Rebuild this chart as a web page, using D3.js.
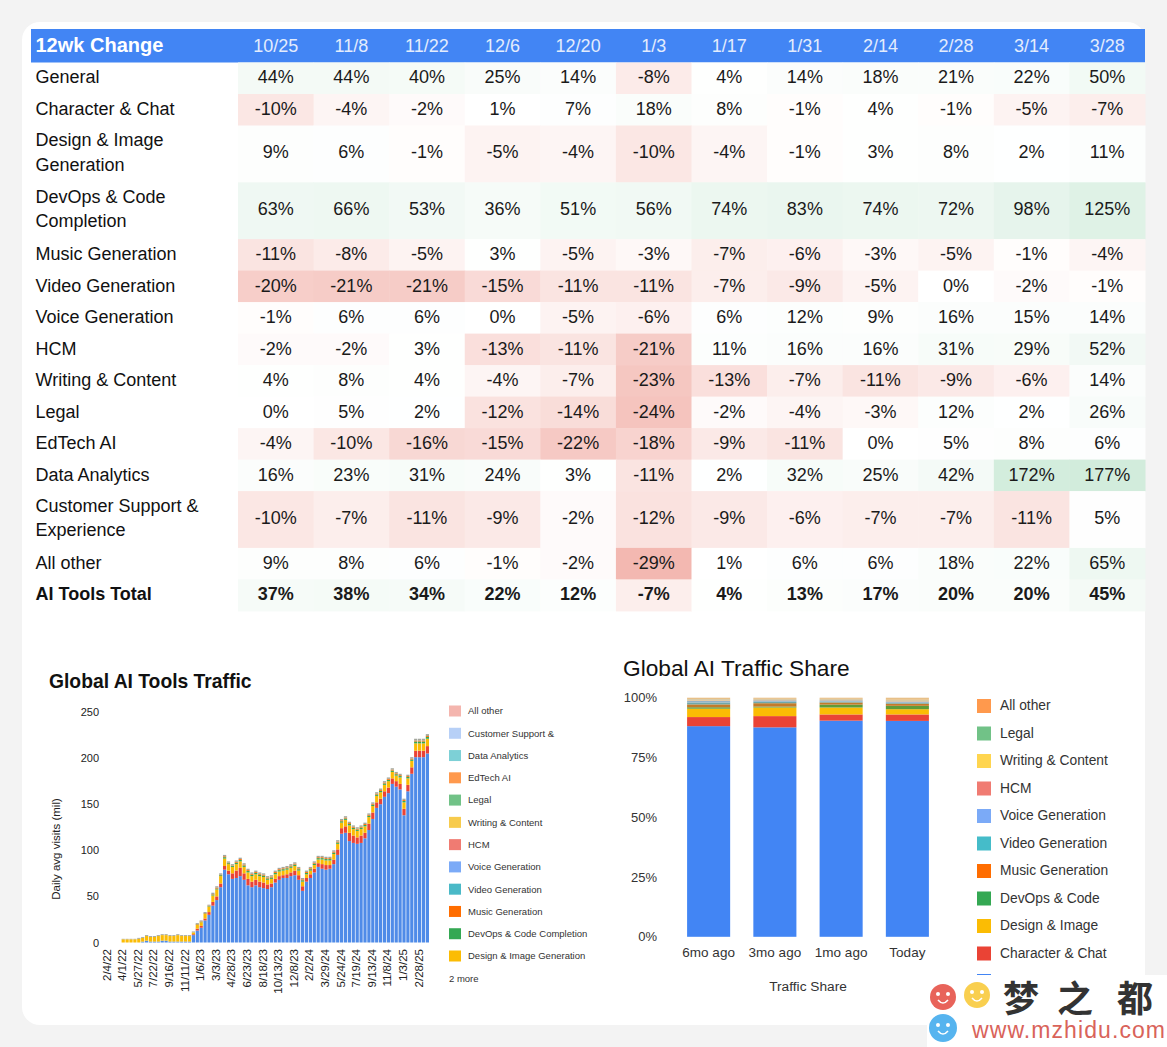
<!DOCTYPE html>
<html>
<head>
<meta charset="utf-8">
<script src="https://cdnjs.cloudflare.com/ajax/libs/d3/7.8.5/d3.min.js"></script>
<style>
  html, body { margin: 0; padding: 0; background: #f3f3f3; }
  svg { display: block; font-family: "Liberation Sans", Arial, sans-serif; }
  .axis path, .axis line { display: none; }
</style>
</head>
<body>
<script>
// ---- table data
const periods = ["10/25","11/8","11/22","12/6","12/20","1/3","1/17","1/31","2/14","2/28","3/14","3/28"];
const rowLabels = [
  ["General"], ["Character & Chat"], ["Design & Image","Generation"], ["DevOps & Code","Completion"],
  ["Music Generation"], ["Video Generation"], ["Voice Generation"], ["HCM"], ["Writing & Content"],
  ["Legal"], ["EdTech AI"], ["Data Analytics"], ["Customer Support &","Experience"], ["All other"], ["AI Tools Total"]
];
const changeValues = [
  [44,44,40,25,14,-8,4,14,18,21,22,50],
  [-10,-4,-2,1,7,18,8,-1,4,-1,-5,-7],
  [9,6,-1,-5,-4,-10,-4,-1,3,8,2,11],
  [63,66,53,36,51,56,74,83,74,72,98,125],
  [-11,-8,-5,3,-5,-3,-7,-6,-3,-5,-1,-4],
  [-20,-21,-21,-15,-11,-11,-7,-9,-5,0,-2,-1],
  [-1,6,6,0,-5,-6,6,12,9,16,15,14],
  [-2,-2,3,-13,-11,-21,11,16,16,31,29,52],
  [4,8,4,-4,-7,-23,-13,-7,-11,-9,-6,14],
  [0,5,2,-12,-14,-24,-2,-4,-3,12,2,26],
  [-4,-10,-16,-15,-22,-18,-9,-11,0,5,8,6],
  [16,23,31,24,3,-11,2,32,25,42,172,177],
  [-10,-7,-11,-9,-2,-12,-9,-6,-7,-7,-11,5],
  [9,8,6,-1,-2,-29,1,6,6,18,22,65],
  [37,38,34,22,12,-7,4,13,17,20,20,45]
];

// ---- left chart data, one value per two weeks from 2/4/22 (millions)
const tickLabels = ["2/4/22","4/1/22","5/27/22","7/22/22","9/16/22","11/11/22","1/6/23","3/3/23","4/28/23","6/23/23","8/18/23","10/13/23","12/8/23","2/2/24","3/29/24","5/24/24","7/19/24","9/13/24","11/8/24","1/3/25","2/28/25"];
const generalVisits = [0,0,0,0, 0,0,0,0,0,1,2,1,1,1,2,2,1,1,1,1,1,1,
  8,13,16,24,30,40,46,60, 79,74,69,70,72,68,62,60,62,60, 59,58,60,65,68,70,70,72,73,68,
  56,66,70,76,82,80,79,80,85,95, 118,119,110,108,107,108,113,122,134,146, 150,158,162,172,169,166,138,164,183,201, 201,201,205];
const characterVisits = [0,0,0,0, 0,0,0,0,0,0,0,0,0,0,0,0,0,0,0,0,0,0,
  1,2,2,2,3,4,4,4, 4,4,6,8,9,7,7,6,6,6, 6,5,4,4,4,3,4,4,5,5,
  5,4,4,4,4,5,5,4,5,6, 6,7,9,8,7,8,6,7,7,6, 6,6,6,6,6,6,7,7,7,7, 7,7,8];
const designVisits = [0,0,0,0, 3.5,3.5,3.5,3.5,4,4,5,5,5,6,6,6,6,6,7,6,6,6,
  2,4,4,5,6,7,7.5,8, 8,7,7,7,7,7,7,6,6,6, 6,5,5,5,5,5,5,5,5,5,
  5,4,4,4,4,5,5,5,6,6, 6,7,8,7,7,7,7,7,7,7, 7,7,7,7,6,7,7,7,7,8, 8,8,8];
const devopsVisits = [0,0,0,0, 0,0,0,0,0,0,0,0,0,0,0,0,0,0,0,0,0,0,
  0,.5,.5,.5,.5,1,1,1, 1.5,1,1,1.5,1.5,1.5,1.5,1.5,1.5,1.5, 1.5,1.5,1.5,1.5,1.5,1.5,1.5,1.5,1.5,1.5,
  1.5,1.5,1.5,1.5,1.5,1.5,1.5,1.5,1.5,1.5, 1.5,1.5,1.5,1.5,1.5,1.5,1.5,1.5,1.5,1.5, 1.5,1.5,1.5,1.5,1.5,1.5,1.5,1.5,1.5,2, 2,2,2];
const musicVisits = [0,0,0,0, 0,0,0,0,0,0,0,0,0,0,0,0,0,0,0,0,0,0,
  0,.5,.5,.5,.5,.5,1,.5, 1,.5,.5,1,1,1,1,1,1,1, 1,1,1,1,1,1,1,1,1,1,
  1,1,1,1,1,1,1,1,1,1, 1,1,1,1,1,1,1,1,1,1, 1,1,1,1,1,1,1,1,1,1, 1,1,1];
const restVisits = [0,0,0,0, .5,.5,.5,.5,1,1,1,1,1,1,1,1,1,1,1,1,1,1,
  1,1,1,1,1,1.5,1.5,1.5, 1.5,1.5,1.5,1.5,1.5,1.5,1.5,1.5,1.5,1.5, 1.5,1.5,1.5,1.5,1.5,1.5,1.5,1.5,1.5,1.5,
  1.5,1.5,1.5,1.5,1.5,1.5,1.5,1.5,1.5,1.5, 1.5,1.5,1.5,1.5,1.5,1.5,1.5,1.5,1.5,1.5, 1.5,1.5,1.5,1.5,1.5,1.5,1.5,1.5,1.5,2, 2,2,2];
const leftLegend = ["All other","Customer Support &","Data Analytics","EdTech AI","Legal","Writing & Content","HCM","Voice Generation","Video Generation","Music Generation","DevOps & Code Completion","Design & Image Generation"];
const leftLegendColors = ["#f4b5ae","#b7d0f7","#7dd0d6","#ff994d","#71c287","#f7cb4d","#f07b72","#7baaf7","#4ab9c7","#ff6d00","#34a853","#fbbc04"];

// ---- right chart data (% share)
const shareLabels = ["6mo ago","3mo ago","1mo ago","Today"];
const shareGeneral = [88.1,87.6,90.4,90.3];
const shareCharacter = [3.8,4.7,2.6,2.7];
const shareDesign = [3.5,3.6,2.9,2.2];
const shareDevops = [.6,.4,1.2,1.4];
const shareMusic = [1.2,1.4,.9,.9];
const shareVideo = [.8,.6,.4,.4];
const shareVoice = [.6,.5,.4,.4];
const shareHcm = [.2,.2,.2,.2];
const shareWriting = [.4,.3,.3,.4];
const shareLegal = [.2,.2,.2,.2];
const shareOther = [.6,.5,.5,.9];
// last legend entry only shows its swatch top above the watermark, so it has no label
const rightLegend = ["All other","Legal","Writing & Content","HCM","Voice Generation","Video Generation","Music Generation","DevOps & Code","Design & Image","Character & Chat",""];
const rightColors = ["#ff994d","#71c287","#ffd54f","#f07b72","#7baaf7","#45bcc9","#ff6d00","#34a853","#fbbc04","#ea4335","#4285f4"];

const svg = d3.select("body").append("svg").attr("width", 1167).attr("height", 1047);

// card
svg.append("rect").attr("x", 22).attr("y", 22).attr("width", 1123).attr("height", 1003).attr("rx", 18).attr("fill", "#fff");

// ---- table
const colX = d3.scaleBand().domain(periods).range([238, 1145]);
const heatColor = d3.scaleLinear().domain([-29, 0, 177]).range(["#f3b8b1", "#ffffff", "#d2ecdc"]);
const rowHeights = rowLabels.map(d => d.length > 1 ? 56.8 : 31.5);
const rowTops = [0].concat(Array.from(d3.cumsum(rowHeights))).map(d => d + 62.5);

svg.append("rect").attr("x", 31).attr("y", 29).attr("width", 1114).attr("height", 33.5).attr("fill", "#4285f4");
svg.append("text").attr("x", 35.5).attr("y", 52).attr("fill", "#fff")
  .attr("font-size", 20).attr("font-weight", "bold").text("12wk Change");
svg.selectAll(".period").data(periods).join("text")
  .attr("class", "period")
  .attr("x", d => colX(d) + colX.bandwidth() / 2)
  .attr("y", 52)
  .attr("text-anchor", "middle").attr("font-size", 18).attr("fill", "#e3ecfd")
  .text(d => d);

const rows = svg.selectAll(".row").data(rowLabels).join("g")
  .attr("class", "row")
  .attr("transform", (d, i) => `translate(0,${rowTops[i]})`);

rows.each(function (labels, i) {
  const g = d3.select(this);
  const h = rowHeights[i];
  const bold = i == rowLabels.length - 1 ? "bold" : "normal";
  g.selectAll("rect").data(changeValues[i]).join("rect")
    .attr("x", (d, j) => colX(periods[j]))
    .attr("width", colX.bandwidth() + 0.5)
    .attr("height", h + 0.5)
    .attr("fill", d => heatColor(d));
  g.selectAll(".val").data(changeValues[i]).join("text")
    .attr("class", "val")
    .attr("x", (d, j) => colX(periods[j]) + colX.bandwidth() / 2)
    .attr("y", h / 2 + (labels.length > 1 ? 4.5 : 5.2))
    .attr("text-anchor", "middle").attr("font-size", 18).attr("font-weight", bold).attr("fill", "#1a1a1a")
    .text(d => d + "%");
  g.selectAll(".lab").data(labels).join("text")
    .attr("class", "lab")
    .attr("x", 35.5)
    .attr("y", (d, k) => labels.length > 1 ? 20.5 + k * 24.7 : h / 2 + 5.2)
    .attr("font-size", 18).attr("font-weight", bold).attr("fill", "#111")
    .text(d => d);
});

// ---- left chart
const leftKeys = ["general", "character", "design", "devops", "music", "rest"];
const leftColors = ["#4f8be8", "#ea4335", "#fbbc04", "#34a853", "#ff6d00", "#a3a79c"];
const leftRows = generalVisits.map((d, i) => ({
  general: d, character: characterVisits[i], design: designVisits[i],
  devops: devopsVisits[i], music: musicVisits[i], rest: restVisits[i]
}));
const barX = d3.scaleBand().domain(d3.range(generalVisits.length)).range([106, 429]).paddingInner(0.18);
const barY = d3.scaleLinear().domain([0, 250]).range([942.5, 712]);

svg.append("g").selectAll("g").data(d3.stack().keys(leftKeys)(leftRows)).join("g")
  .attr("fill", (d, i) => leftColors[i])
  .selectAll("rect").data(d => d).join("rect")
  .attr("x", (d, i) => barX(i))
  .attr("width", barX.bandwidth())
  .attr("y", d => barY(d[1]))
  .attr("height", d => barY(d[0]) - barY(d[1]));

svg.append("g").attr("class", "axis")
  .attr("transform", "translate(103,0)")
  .call(d3.axisLeft(barY).tickValues([0, 50, 100, 150, 200, 250]).tickSize(0).tickPadding(4))
  .call(g => g.selectAll("text").attr("font-size", 11).attr("fill", "#222").attr("font-family", "Liberation Sans"));

svg.append("g").attr("class", "axis")
  .attr("transform", "translate(0,946)")
  .call(d3.axisBottom(barX).tickValues(tickLabels.map((d, i) => i * 4)).tickFormat(i => tickLabels[i / 4]).tickSize(0))
  .call(g => g.selectAll("text")
    .attr("font-size", 11.5).attr("fill", "#222").attr("font-family", "Liberation Sans")
    .attr("text-anchor", "end").attr("dx", "0").attr("dy", "0")
    .attr("transform", "rotate(-90) translate(-3,0)")
    .attr("y", 0).attr("x", 0).attr("dominant-baseline", "middle"));

svg.append("text").attr("transform", "translate(59.5,849) rotate(-90)")
  .attr("text-anchor", "middle").attr("font-size", 11.5).attr("fill", "#222").text("Daily avg visits (mil)");
svg.append("text").attr("x", 49).attr("y", 688).attr("font-size", 19.3).attr("font-weight", "bold").attr("fill", "#111").text("Global AI Tools Traffic");

const leftLegendY = d3.scalePoint().domain(leftLegend).range([711, 956]);
svg.selectAll(".lleg").data(leftLegend).join("rect").attr("class", "lleg")
  .attr("x", 449).attr("y", d => leftLegendY(d) - 5.5).attr("width", 12).attr("height", 11)
  .attr("fill", (d, i) => leftLegendColors[i]);
svg.selectAll(".llegt").data(leftLegend).join("text").attr("class", "llegt")
  .attr("x", 468).attr("y", d => leftLegendY(d) + 3.4)
  .attr("font-size", 9.5).attr("fill", "#333").text(d => d);
svg.append("text").attr("x", 449).attr("y", 981.5).attr("font-size", 9.5).attr("fill", "#333").text("2 more");

// ---- right chart
const shareKeys = ["general","character","design","devops","music","video","voice","hcm","writing","legal","other"];
const shareRows = shareLabels.map((d, i) => ({
  label: d, general: shareGeneral[i], character: shareCharacter[i], design: shareDesign[i],
  devops: shareDevops[i], music: shareMusic[i], video: shareVideo[i], voice: shareVoice[i],
  hcm: shareHcm[i], writing: shareWriting[i], legal: shareLegal[i], other: shareOther[i]
}));
const shareColors = {
  general: "#4285f4", character: "#ea4335", design: "#fbbc04", devops: "#5e9b3a", music: "#c47a2a",
  video: "#6fa8a8", voice: "#8fb0c8", hcm: "#b9a08c", writing: "#e6c38a", legal: "#b5b08a", other: "#e8c088"
};
const shareX = d3.scaleBand().domain(shareLabels).range([675.5, 940.5]).paddingInner(0.35).paddingOuter(0.175);
const shareY = d3.scaleLinear().domain([0, 100]).range([936.8, 697.7]);

svg.append("g").selectAll("g").data(d3.stack().keys(shareKeys)(shareRows)).join("g")
  .attr("fill", d => shareColors[d.key])
  .selectAll("rect").data(d => d).join("rect")
  .attr("x", d => shareX(d.data.label))
  .attr("width", shareX.bandwidth())
  .attr("y", d => shareY(d[1]))
  .attr("height", d => shareY(d[0]) - shareY(d[1]));

svg.append("g").attr("class", "axis")
  .attr("transform", "translate(661,0)")
  .call(d3.axisLeft(shareY).tickValues([0, 25, 50, 75, 100]).tickFormat(d => d + "%").tickSize(0).tickPadding(4))
  .call(g => g.selectAll("text").attr("font-size", 13).attr("fill", "#333").attr("font-family", "Liberation Sans"));
svg.append("g").attr("class", "axis")
  .attr("transform", "translate(0,944)")
  .call(d3.axisBottom(shareX).tickSize(0).tickPadding(3))
  .call(g => g.selectAll("text").attr("font-size", 13.5).attr("fill", "#333").attr("font-family", "Liberation Sans"));

svg.append("text").attr("x", 808).attr("y", 991).attr("text-anchor", "middle").attr("font-size", 13.7).attr("fill", "#333").text("Traffic Share");
svg.append("text").attr("x", 623).attr("y", 676).attr("font-size", 22.7).attr("fill", "#111").text("Global AI Traffic Share");

const rightLegendY = d3.scalePoint().domain(rightLegend).range([706, 981]);
svg.selectAll(".rleg").data(rightLegend).join("rect").attr("class", "rleg")
  .attr("x", 977).attr("y", d => rightLegendY(d) - 7).attr("width", 14).attr("height", 14)
  .attr("fill", (d, i) => rightColors[i]);
svg.selectAll(".rlegt").data(rightLegend.filter(d => d)).join("text").attr("class", "rlegt")
  .attr("x", 1000).attr("y", d => rightLegendY(d) + 4)
  .attr("font-size", 13.8).attr("fill", "#333").text(d => d);

// ---- watermark
const mark = svg.append("g");
mark.append("rect").attr("x", 927).attr("y", 975).attr("width", 240).attr("height", 72).attr("fill", "#fff");
[[943, 997, 13, "#e8635a"], [977, 995, 13, "#f9cf4f"], [943, 1028, 14, "#56b4ef"]].forEach(c => {
  mark.append("circle").attr("cx", c[0]).attr("cy", c[1]).attr("r", c[2]).attr("fill", c[3]);
  mark.append("circle").attr("cx", c[0] - 5).attr("cy", c[1] - 3).attr("r", 2).attr("fill", "#fff");
  mark.append("circle").attr("cx", c[0] + 5).attr("cy", c[1] - 3).attr("r", 2).attr("fill", "#fff");
  mark.append("path").attr("d", `M${c[0] - 5},${c[1] + 3} Q${c[0]},${c[1] + 9} ${c[0] + 5},${c[1] + 3}`)
    .attr("fill", "none").attr("stroke", "#fff").attr("stroke-width", 1.5);
});
mark.selectAll(".mz").data(["梦", "之", "都"]).join("text").attr("class", "mz")
  .attr("x", (d, i) => [1021, 1075, 1135][i]).attr("y", 1012)
  .attr("text-anchor", "middle").attr("font-size", 36).attr("font-weight", "bold")
  .attr("font-family", "Noto Sans CJK SC").attr("fill", "#333").text(d => d);
mark.append("text").attr("x", 972).attr("y", 1038).attr("font-size", 23).attr("textLength", 193)
  .attr("fill", "#d9635a").text("www.mzhidu.com");
</script>
</body>
</html>
